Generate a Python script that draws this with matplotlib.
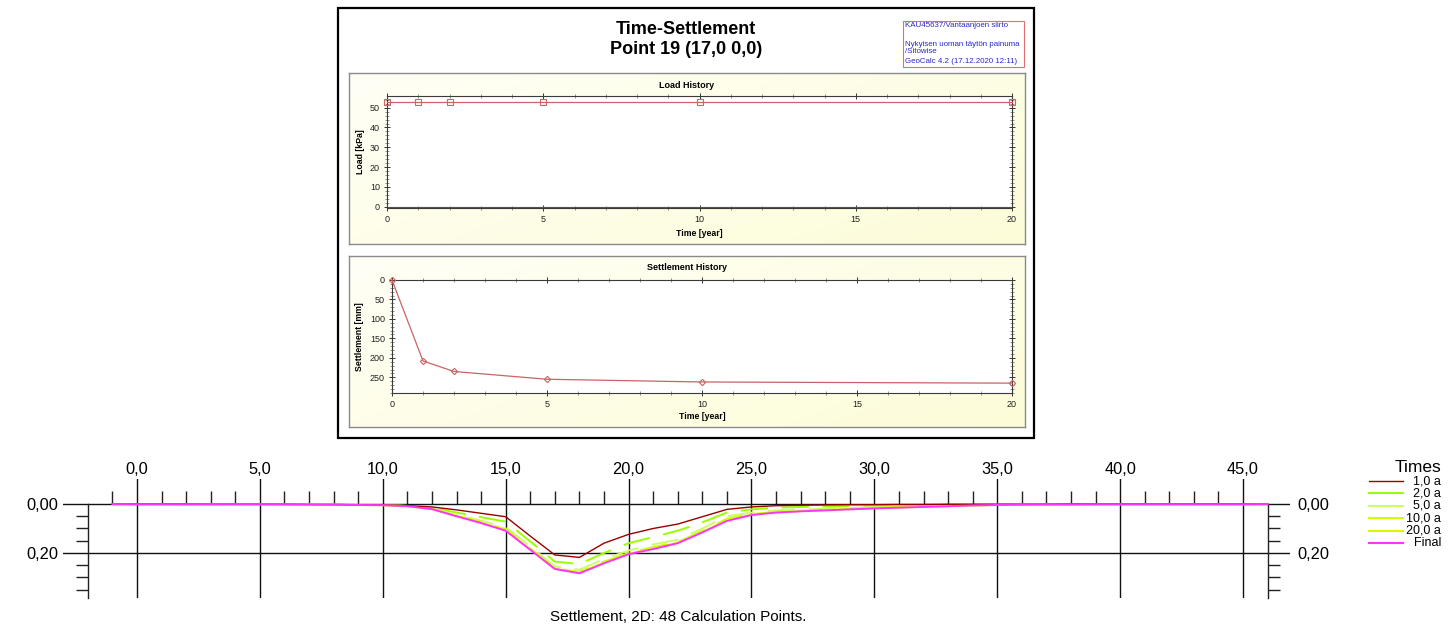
import numpy as np
import matplotlib
matplotlib.use('Agg')
import matplotlib.pyplot as plt
from matplotlib.patches import Rectangle
from matplotlib.lines import Line2D
from matplotlib.ticker import FixedLocator, MultipleLocator, FuncFormatter

plt.rcParams['font.family'] = ['Liberation Sans', 'DejaVu Sans']

# ---------------- data ----------------
# time history of point 19
hist_time = [0, 1, 2, 5, 10, 20]
hist_load = [53, 53, 53, 53, 53, 53]            # kPa
hist_settle = [0, 208, 235, 255, 262, 265]      # mm

# 2D settlement profile (48 calculation points)
calc_x = [-1, 0, 1, 2, 3, 4, 5, 6, 7, 8, 9, 10, 11, 12, 13, 14, 15, 16, 17, 18, 19, 20,
          21, 22, 23, 24, 25, 26, 27, 28, 29, 30, 31, 32, 33, 34, 35, 36, 37, 38, 39, 40,
          41, 42, 43, 44, 45, 46]
s_1a = [0, 0, 0, 0, .001, .001, .001, .001, .002, .002, .003, .004,
        .007, .012, .024, .038, .052, .131, .208, .218, .160, .124,
        .100, .082, .052, .022, .012, .007, .005, .004, .003, .003,
        .002, .002, .001, .001, .001, .001, .001, 0, 0, 0,
        0, 0, 0, 0, 0, 0]
s_2a = [0, 0, 0, .001, .001, .001, .001, .001, .002, .002, .003, .004,
        .008, .015, .035, .054, .072, .153, .235, .245, .200, .160,
        .135, .109, .075, .035, .022, .015, .012, .010, .008, .007,
        .006, .005, .004, .003, .002, .001, .001, .001, .001, 0,
        0, 0, 0, 0, 0, 0]
s_5a = [0, .001, .001, .001, .001, .001, .001, .002, .002, .003, .004, .005,
        .008, .018, .044, .068, .095, .173, .255, .268, .225, .190,
        .165, .146, .100, .050, .035, .026, .022, .019, .016, .013,
        .011, .009, .007, .005, .003, .002, .002, .001, .001, .001,
        .001, .001, .001, .001, .001, 0]
s_10a = [0, .001, .001, .001, .001, .001, .001, .002, .002, .003, .004, .005,
         .009, .019, .047, .073, .103, .181, .262, .277, .235, .200,
         .176, .155, .110, .060, .041, .032, .027, .024, .020, .016,
         .013, .011, .008, .006, .004, .003, .002, .001, .001, .001,
         .001, .001, .001, .001, .001, 0]
s_20a = [0, .001, .001, .001, .001, .001, .001, .002, .002, .003, .004, .005,
         .009, .020, .049, .076, .107, .185, .265, .281, .239, .203,
         .181, .158, .114, .065, .044, .034, .029, .025, .021, .017,
         .014, .012, .009, .006, .004, .003, .002, .002, .001, .001,
         .001, .001, .001, .001, .001, 0]
s_final = [0, .001, .001, .001, .001, .001, .001, .002, .002, .003, .004, .005,
           .009, .021, .050, .078, .109, .187, .265, .283, .242, .205,
           .184, .160, .116, .069, .045, .035, .030, .026, .022, .018,
           .015, .012, .009, .006, .004, .003, .002, .002, .001, .001,
           .001, .001, .001, .001, .001, 0]

series_labels = ['1,0 a', '2,0 a', '5,0 a', '10,0 a', '20,0 a', 'Final']
series_values = [s_1a, s_2a, s_5a, s_10a, s_20a, s_final]
series_colors = ['#990000', '#99FF00', '#CCFF66', '#CCFF00', '#DDF500', '#FF33FF']

# ---------------- figure ----------------
W, H = 1449, 632
fig = plt.figure(figsize=(W / 100, H / 100), dpi=100)
fig.patch.set_facecolor('white')


def rect(l, t, r, b):
    return [l / W, 1 - b / H, (r - l) / W, (b - t) / H]


def fx(px):
    return px / W


def fy(py):
    return 1 - py / H


# outer frame of the report block
fig.add_artist(Rectangle((fx(338), fy(438)), (1034 - 338) / W, (438 - 8) / H,
                         fill=False, ec='black', lw=1.6, transform=fig.transFigure))
fig.text(fx(686), fy(29), 'Time-Settlement', ha='center', va='center',
         fontsize=13, fontweight='bold')
fig.text(fx(686), fy(49), 'Point 19 (17,0 0,0)', ha='center', va='center',
         fontsize=13, fontweight='bold')

# info box
fig.add_artist(Rectangle((fx(903), fy(67)), (1024 - 903) / W, (67 - 21) / H,
                         fill=False, ec='#E07070', lw=0.8, transform=fig.transFigure))
info_lines = [('KAU45637/Vantaanjoen siirto', 25.5), ('Nykyisen uoman täytön painuma', 44),
              ('/Sitowise', 51.5), ('GeoCalc 4.2 (17.12.2020 12:11)', 61.5)]
for txt, yy in info_lines:
    fig.text(fx(905), fy(yy), txt, ha='left', va='center', fontsize=5.7, color='#2828C8')

# gradient for panel backgrounds
gx = np.linspace(0, 1, 200)[None, :]
gy = np.linspace(0, 1, 60)[:, None]
tgrad = np.clip(0.6 * gx + 0.4 * gy, 0, 1)
c0 = np.array([1.0, 1.0, 0.965])
c1 = np.array([0.99, 0.99, 0.85])
grad = c0[None, None, :] * (1 - tgrad[..., None]) + c1[None, None, :] * tgrad[..., None]


def panel(l, t, r, b):
    bg = fig.add_axes(rect(l, t, r, b))
    bg.imshow(grad, aspect='auto', extent=[0, 1, 0, 1], origin='upper', interpolation='bilinear')
    bg.set_xticks([])
    bg.set_yticks([])
    for s in bg.spines.values():
        s.set_color('#8a8a8a')
        s.set_linewidth(1.0)
    return bg


def style_small(ax):
    ax.set_facecolor('white')
    for s in ax.spines.values():
        s.set_color('#3a3a3a')
        s.set_linewidth(0.8)
    ax.tick_params(which='both', direction='inout', top=True, right=True,
                   labelsize=6.5, labelcolor='#222222', pad=2.5)
    ax.tick_params(which='major', length=5, width=0.7, color='#333333')
    ax.tick_params(which='minor', length=2.5, width=0.5, color='#666666')


# ---- Load history ----
panel(349, 73, 1025, 244)
fig.text(fx(687), fy(85), 'Load History', ha='center', va='center', fontsize=6.5, fontweight='bold')
axL = fig.add_axes(rect(387, 96, 1012, 208))
style_small(axL)
axL.plot(hist_time, hist_load, color='#D06464', lw=0.9, marker='s', ms=4.5,
         mfc='none', mec='#D06464', mew=0.8, clip_on=False, zorder=3)
axL.axhline(0, color='#555555', lw=0.8)
axL.set_xlim(0, 20)
axL.set_ylim(-0.66, 55.9)
axL.xaxis.set_major_locator(MultipleLocator(5))
axL.xaxis.set_minor_locator(MultipleLocator(1))
axL.yaxis.set_major_locator(MultipleLocator(10))
axL.yaxis.set_minor_locator(MultipleLocator(2))
axL.set_xlabel('Time [year]', fontsize=6.3, fontweight='bold')
axL.set_ylabel('Load [kPa]', fontsize=6.3, fontweight='bold')
axL.xaxis.set_label_coords(0.5, -0.225)
axL.xaxis.label.set_va('center')
axL.yaxis.set_label_coords(-0.042, 0.5)
axL.yaxis.label.set_va('center')

# ---- Settlement history ----
panel(349, 256, 1025, 427)
fig.text(fx(687), fy(268), 'Settlement History', ha='center', va='center', fontsize=6.5, fontweight='bold')
axS = fig.add_axes(rect(392, 280, 1012, 393))
style_small(axS)
axS.plot(hist_time, hist_settle, color='#C86464', lw=0.9, marker='D', ms=3.2,
         mfc='none', mec='#C86464', mew=0.8, clip_on=False, zorder=3)
axS.set_xlim(0, 20)
axS.set_ylim(290.3, 0)
axS.xaxis.set_major_locator(MultipleLocator(5))
axS.xaxis.set_minor_locator(MultipleLocator(1))
axS.yaxis.set_major_locator(MultipleLocator(50))
axS.yaxis.set_minor_locator(MultipleLocator(10))
axS.set_xlabel('Time [year]', fontsize=6.3, fontweight='bold')
axS.set_ylabel('Settlement [mm]', fontsize=6.3, fontweight='bold')
axS.xaxis.set_label_coords(0.5, -0.205)
axS.xaxis.label.set_va('center')
axS.yaxis.set_label_coords(-0.053, 0.5)
axS.yaxis.label.set_va('center')

# ---- 2D settlement profile ----
ax = fig.add_axes(rect(63, 479, 1290, 598))
ax.set_xlim(-3.011, 46.91)
ax.set_ylim(0.3837, -0.102)

ax.spines['top'].set_position(('data', 0))
ax.spines['top'].set_color('none')
ax.spines['bottom'].set_visible(False)
for side, pos in (('left', -2), ('right', 46)):
    ax.spines[side].set_position(('data', pos))
    ax.spines[side].set_bounds(0, 0.3837)
    ax.spines[side].set_color('#222222')
    ax.spines[side].set_linewidth(1.0)

ax.xaxis.tick_top()
ax.xaxis.set_major_locator(FixedLocator([0, 5, 10, 15, 20, 25, 30, 35, 40, 45]))
ax.xaxis.set_minor_locator(FixedLocator([v for v in range(-1, 45) if v % 5 != 0]))
ax.xaxis.set_major_formatter(FuncFormatter(lambda v, p: f'{v:.1f}'.replace('.', ',')))
ax.tick_params(axis='x', which='major', length=0, pad=19.5, labelsize=11.8)
ax.tick_params(axis='x', which='minor', direction='out', length=9.4, width=1.0, color='#222222')

ax.yaxis.set_major_locator(FixedLocator([0.0, 0.2]))
ax.yaxis.set_minor_locator(FixedLocator([0.05, 0.10, 0.15, 0.25, 0.30, 0.35]))
ax.yaxis.set_major_formatter(FuncFormatter(lambda v, p: f'{v:.2f}'.replace('.', ',')))
ax.tick_params(axis='y', which='both', left=True, right=True, labelleft=True, labelright=True)
ax.tick_params(axis='y', which='major', length=0, pad=21.5, labelsize=11.8)
ax.tick_params(axis='y', which='minor', direction='out', length=8.6, width=1.0, color='#222222')

ax.grid(True, which='major', color='#111111', lw=1.0)
ax.set_axisbelow(True)

green_dashes = [(0, (14, 7)), (6, (14, 7)), (12, (14, 7)), (3, (14, 7))]
for i, (vals, col) in enumerate(zip(series_values[1:5], series_colors[1:5])):
    ax.plot(calc_x, vals, color=col, lw=1.4, linestyle=green_dashes[i], zorder=3)
ax.plot(calc_x, series_values[0], color=series_colors[0], lw=1.0, zorder=4)
ax.plot(calc_x, series_values[5], color=series_colors[5], lw=1.4, zorder=5)

# legend (manual, right-aligned labels)
fig.text(fx(1441), fy(468), 'Times', ha='right', va='center', fontsize=12.5)
for i, (lab, col) in enumerate(zip(series_labels, series_colors)):
    yy = 481 + 12.4 * i
    lw = 1.0 if i == 0 else 1.5
    fig.add_artist(Line2D([fx(1369), fx(1403)], [fy(yy), fy(yy)], color=col, lw=lw,
                          transform=fig.transFigure))
    fig.text(fx(1441), fy(yy), lab, ha='right', va='center', fontsize=9)

fig.text(fx(678), fy(617), 'Settlement, 2D: 48 Calculation Points.', ha='center',
         va='center', fontsize=11)

fig.savefig('out.png', dpi=100, facecolor='white')
